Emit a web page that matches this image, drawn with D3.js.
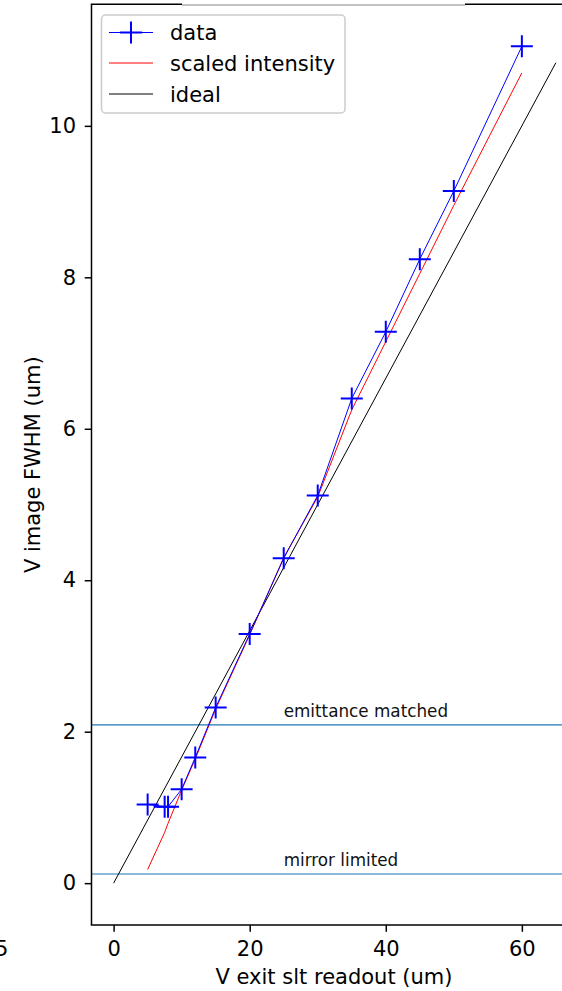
<!DOCTYPE html>
<html><head><meta charset="utf-8">
<script src="https://cdn.jsdelivr.net/npm/d3@7"></script>
<style>html,body{margin:0;padding:0;background:#fff;overflow:hidden}svg{display:block}text{font-family:"DejaVu Sans",sans-serif}</style>
</head><body>
<script>
const dataX = [5, 7.5, 8, 10, 12, 15, 20, 25, 30, 35, 40, 45, 50, 60];
const dataY = [1.04, 1.01, 1.01, 1.24, 1.66, 2.32, 3.29, 4.29, 5.12, 6.40, 7.28, 8.24, 9.14, 11.05];
const scaledY = [0.18, 0.67, 0.79, 1.23, 1.64, 2.30, 3.28, 4.30, 5.10, 6.25, 7.15, 8.05, 8.95, 10.70];
const idealX = [0, 65];
const idealY = [0, 65 / 6];
const hlines = [{y: 2.09, label: "emittance matched"}, {y: 0.12, label: "mirror limited"}];
const xTicks = [0, 20, 40, 60];
const yTicks = [0, 2, 4, 6, 8, 10];
const legendLabels = ["data", "scaled intensity", "ideal"];

const W = 562, H = 991;
const L = 91.5, R = 578, T = 4.5, B = 925;
const svg = d3.select("body").append("svg").attr("width", W).attr("height", H);
const x = d3.scaleLinear().domain([-3.25, 68.25]).range([L, R]);
const y = d3.scaleLinear().domain([-0.5525, 11.6025]).range([B, T]);

svg.append("defs").append("clipPath").attr("id", "clip")
  .append("rect").attr("x", L).attr("y", T).attr("width", R - L).attr("height", B - T);
const plot = svg.append("g").attr("clip-path", "url(#clip)");

// horizontal reference lines
hlines.forEach(h => {
  plot.append("line").attr("x1", L).attr("x2", R).attr("y1", y(h.y)).attr("y2", y(h.y))
    .attr("stroke", "#1f77b4").attr("stroke-width", 1.1);
  svg.append("text").attr("x", x(25)).attr("y", y(h.y) - 8.3)
    .attr("font-size", 16.8).attr("fill", "#111").text(h.label);
});

const line = d3.line().x(d => x(d[0])).y(d => y(d[1]));
plot.append("path").datum(idealX.map((v, i) => [v, idealY[i]])).attr("d", line)
  .attr("fill", "none").attr("stroke", "#000").attr("stroke-width", 1);
plot.append("path").datum(dataX.map((v, i) => [v, scaledY[i]])).attr("d", line)
  .attr("fill", "none").attr("stroke", "#ff0000").attr("stroke-width", 1);
plot.append("path").datum(dataX.map((v, i) => [v, dataY[i]])).attr("d", line)
  .attr("fill", "none").attr("stroke", "#0000ff").attr("stroke-width", 1);
const ms = 11;
function cross(g, cx, cy) {
  g.append("path").attr("d", `M${cx - ms},${cy}H${cx + ms}M${cx},${cy - ms}V${cy + ms}`)
    .attr("stroke", "#0000ff").attr("stroke-width", 2).attr("fill", "none");
}
dataX.forEach((v, i) => cross(plot, x(v), y(dataY[i])));

// axes
const fs = 21;
const xa = svg.append("g").attr("transform", `translate(0,${B})`)
  .call(d3.axisBottom(x).tickValues(xTicks).tickSize(6.8).tickPadding(9).tickFormat(d3.format("d")));
const ya = svg.append("g").attr("transform", `translate(${L},0)`)
  .call(d3.axisLeft(y).tickValues(yTicks).tickSize(6.8).tickPadding(8.7).tickFormat(d3.format("d")));
[xa, ya].forEach(a => {
  a.select(".domain").remove();
  a.selectAll("line").attr("stroke", "#000").attr("stroke-width", 1.5);
  a.selectAll("text").attr("font-size", fs).attr("fill", "#000").attr("font-family", "DejaVu Sans");
});

// spines
svg.append("line").attr("x1", L).attr("x2", L).attr("y1", T).attr("y2", B).attr("stroke", "#000").attr("stroke-width", 1.5);
svg.append("line").attr("x1", L - 0.75).attr("x2", W).attr("y1", B).attr("y2", B).attr("stroke", "#000").attr("stroke-width", 1.5);
svg.append("line").attr("x1", L - 0.75).attr("x2", 182).attr("y1", 4.3).attr("y2", 4.3).attr("stroke", "#000").attr("stroke-width", 1.5);
svg.append("line").attr("x1", 182).attr("x2", 465).attr("y1", 5).attr("y2", 5).attr("stroke", "#888").attr("stroke-width", 1);
svg.append("line").attr("x1", 465).attr("x2", W).attr("y1", 4.3).attr("y2", 4.3).attr("stroke", "#000").attr("stroke-width", 1.5);

// axis labels
svg.append("text").attr("x", 334).attr("y", 984).attr("text-anchor", "middle")
  .attr("font-size", fs).attr("fill", "#000").text("V exit slt readout (um)");
svg.append("text").attr("transform", `translate(39.5,${(T + B) / 2}) rotate(-90)`).attr("text-anchor", "middle")
  .attr("font-size", fs).attr("fill", "#000").text("V image FWHM (um)");
// clipped stray label at left edge (as in the reference)
svg.append("text").attr("x", -5).attr("y", 955.7).attr("font-size", fs).attr("fill", "#000").text("5");

// legend
const lg = svg.append("g");
lg.append("rect").attr("x", 101.5).attr("y", 15).attr("width", 243.5).attr("height", 98).attr("rx", 4)
  .attr("fill", "#fff").attr("fill-opacity", 0.8).attr("stroke", "#ccc").attr("stroke-width", 1.5);
const rowsY = [32.5, 63, 94];
const colors = ["#0000ff", "#ff0000", "#000"];
legendLabels.forEach((lab, i) => {
  lg.append("line").attr("x1", 109).attr("x2", 153).attr("y1", rowsY[i]).attr("y2", rowsY[i])
    .attr("stroke", colors[i]).attr("stroke-width", 1);
  if (i === 0) cross(lg, 131, rowsY[i]);
  lg.append("text").attr("x", 170).attr("y", rowsY[i] + 7.5).attr("font-size", fs).attr("fill", "#000").text(lab);
});
</script>
</body></html>
